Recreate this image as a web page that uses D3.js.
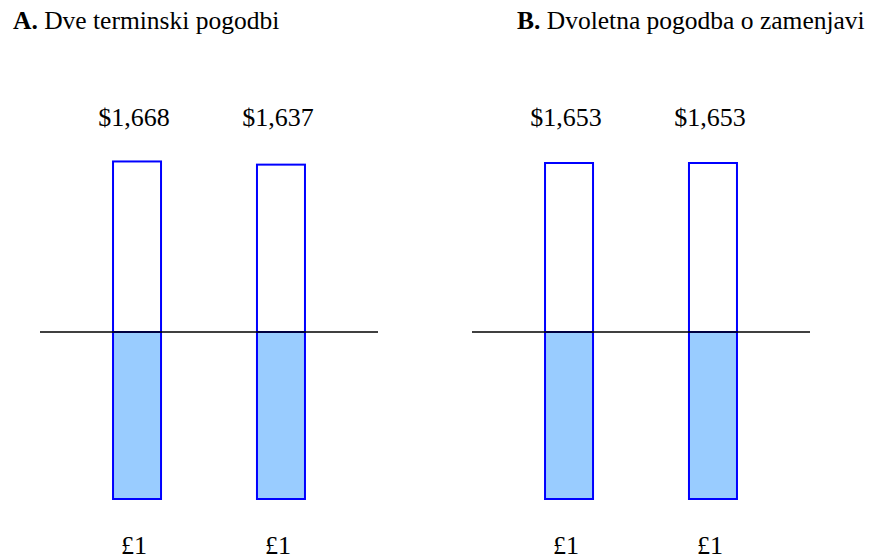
<!DOCTYPE html>
<html>
<head>
<meta charset="utf-8">
<script src="https://cdn.jsdelivr.net/npm/d3@7"></script>
<style>
  html, body { margin: 0; padding: 0; background: #fff; }
  svg { display: block; }
  text { font-family: "Liberation Serif", "Times New Roman", serif; fill: #000; }
</style>
</head>
<body>
<svg id="chart" width="881" height="560"></svg>
<script>
// Panel headings
const panelKeys = ["A.", "B."];
const panelTitles = ["Dve terminski pogodbi", "Dvoletna pogodba o zamenjavi"];

// Payment dates within each panel
const years = ["1", "2"];

// Dollar amounts received (drawn above the line) and pounds paid (below)
const dollarFlows = [
  [1668, 1637],
  [1653, 1653]
];
const poundFlows = [
  [1, 1],
  [1, 1]
];

const svg = d3.select("#chart");

const panelWidth = 338;
const panelLeft = [40, 472];
const titleLeft = [13, 517];
const axisY = 332;
const barWidth = 48;

const x = d3.scalePoint().domain(years).range([0, panelWidth]).padding(0.674);
const yDollar = d3.scaleLinear().domain([0, 1653]).range([0, 169]);
const yPound = d3.scaleLinear().domain([0, 1]).range([0, 167]);

const fmtDollar = d3.format("$,");

panelKeys.forEach((key, i) => {
  // heading: bold letter followed by the panel title
  const t = svg.append("text")
    .attr("x", titleLeft[i])
    .attr("y", 29)
    .style("font-size", "25.5px");
  t.append("tspan").style("font-weight", "bold").text(key);
  t.append("tspan").text(" " + panelTitles[i]);

  const g = svg.append("g").attr("transform", `translate(${panelLeft[i]},0)`);

  const rowsUp = years.map((yr, j) => ({ yr, v: dollarFlows[i][j] }));
  const rowsDown = years.map((yr, j) => ({ yr, v: poundFlows[i][j] }));

  // dollar inflows: outlined bars above the line
  g.selectAll("rect.up").data(rowsUp).join("rect")
    .attr("class", "up")
    .attr("x", d => x(d.yr) - barWidth / 2)
    .attr("y", d => axisY - yDollar(d.v))
    .attr("width", barWidth)
    .attr("height", d => yDollar(d.v))
    .attr("fill", "#ffffff")
    .attr("stroke", "#0000ff")
    .attr("stroke-width", 2);

  // pound outflows: filled bars below the line
  g.selectAll("rect.down").data(rowsDown).join("rect")
    .attr("class", "down")
    .attr("x", d => x(d.yr) - barWidth / 2)
    .attr("y", axisY)
    .attr("width", barWidth)
    .attr("height", d => yPound(d.v))
    .attr("fill", "#99ccff")
    .attr("stroke", "#0000ff")
    .attr("stroke-width", 2);

  // time line
  g.append("line")
    .attr("x1", 0).attr("x2", panelWidth)
    .attr("y1", axisY).attr("y2", axisY)
    .attr("stroke", "#000")
    .attr("stroke-width", 1.6);

  // value labels
  g.selectAll("text.up").data(rowsUp).join("text")
    .attr("class", "up")
    .attr("x", d => x(d.yr) - 3)
    .attr("y", 126)
    .attr("text-anchor", "middle")
    .style("font-size", "26px")
    .text(d => fmtDollar(d.v));

  g.selectAll("text.down").data(rowsDown).join("text")
    .attr("class", "down")
    .attr("x", d => x(d.yr) - 3)
    .attr("y", 554)
    .attr("text-anchor", "middle")
    .style("font-size", "26px")
    .text(d => "£" + d.v);
});
</script>
</body>
</html>
